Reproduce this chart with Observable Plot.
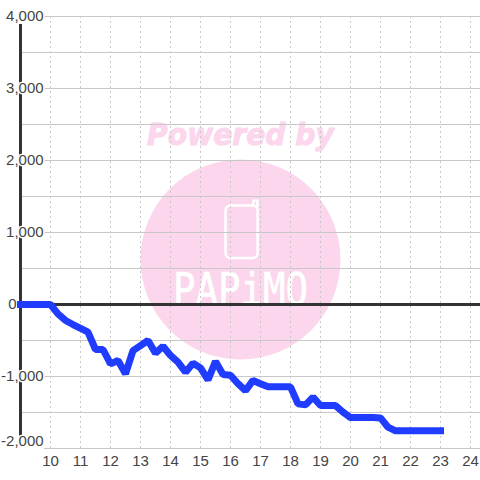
<!DOCTYPE html>
<html><head><meta charset="utf-8">
<script src="https://cdn.jsdelivr.net/npm/d3@7"></script>
<script src="https://cdn.jsdelivr.net/npm/@observablehq/plot@0.6"></script>
<style>html,body{margin:0;padding:0;background:#fff}svg{display:block}</style>
</head><body><div id="chart"></div>
<script>
const hours = [9,10,10.25,10.5,10.75,11,11.25,11.5,11.75,12,12.25,12.5,12.75,13,13.25,13.5,13.75,14,14.25,14.5,14.75,15,15.25,15.5,15.75,16,16.25,16.5,16.75,17,17.25,17.5,17.75,18,18.25,18.5,18.75,19,19.25,19.5,19.75,20,20.25,20.5,20.75,21,21.25,21.5,21.75,22,22.25,22.5,22.75,23];
const values = [0,0,-130,-222,-278,-330,-384,-625,-625,-824,-778,-963,-640,-570,-500,-676,-580,-708,-800,-940,-815,-880,-1046,-790,-972,-982,-1100,-1195,-1055,-1100,-1143,-1143,-1143,-1143,-1380,-1394,-1287,-1403,-1403,-1403,-1495,-1570,-1570,-1570,-1570,-1575,-1704,-1755,-1755,-1755,-1755,-1755,-1755,-1755];
const xTicks = [10,11,12,13,14,15,16,17,18,19,20,21,22,23,24];
const yMajor = [4000,3000,2000,1000,-1000,-2000];
const yMinor = [3500,2500,1500,500,-500,-1500];
const yLabels = [4000,3000,2000,1000,-1000];
const yZero = [0];
const yLow = [-2000];
const xStart = 9, xEnd = 24.333, labelEdge = 9.8, labelX = 9.77, zeroX = 8.87;
const series = hours.map((h,i)=>({h,v:values[i]}));
const fmt = d => d3.format(",")(d).replace("−","-");
const font = "Liberation Sans, Arial, sans-serif";
const pink = "#fbd6ed";
const antenna = [{h:16.74,v:1368},{h:16.77,v:1445},{h:16.9,v:1445},{h:16.9,v:1368}];
function narrow(sx){
  return (i,s,v,d,c,next)=>{
    const g = next(i,s,v,d,c);
    d3.select(g).selectAll("text").each(function(){
      const t=d3.select(this), tr=t.attr("transform")||"";
      t.attr("transform",tr+` scale(${sx},1)`);
    });
    return g;
  };
}
const labelStyle = {textAnchor:"end",fontSize:15,fill:"#444",stroke:"#fff",strokeWidth:3,paintOrder:"stroke"};
const plot = Plot.plot({
  width:480,height:480,marginLeft:20,marginRight:0,marginTop:16,marginBottom:32,
  style:{background:"#fff",fontFamily:font},
  x:{domain:[xStart,xEnd],axis:null},
  y:{domain:[-2000,4000],axis:null},
  marks:[
    Plot.dot([{h:16.333,v:625}],{x:"h",y:"v",r:100,fill:pink,stroke:"none"}),
    Plot.text(["Powered by"],{x:()=>16.333,y:()=>2350,text:d=>d,fontSize:30,fontWeight:"bold",fontStyle:"italic",fill:pink,stroke:pink,strokeWidth:1,fontFamily:"DejaVu Sans, sans-serif",textAnchor:"middle",render:narrow(0.94)}),
    Plot.rect([{x1:15.85,x2:16.92,y1:639,y2:1368}],{x1:"x1",x2:"x2",y1:"y1",y2:"y2",fill:"none",stroke:"#fff",strokeWidth:2.5,rx:5}),
    Plot.line(antenna,{x:"h",y:"v",stroke:"#fff",strokeWidth:2.5,strokeLinejoin:"round",curve:"linear"}),
    Plot.text(["PAPiMO"],{x:()=>16.333,y:()=>190,text:d=>d,fontSize:44,fill:"#fff",stroke:"#fff",strokeWidth:0.6,fontFamily:"DejaVu Sans Mono, monospace",textAnchor:"middle",render:narrow(0.85)}),
    Plot.ruleX(xTicks,{y1:4000,y2:-2000,stroke:"#c8c8c8",strokeWidth:1,strokeDasharray:"2,3"}),
    Plot.ruleY(yMinor,{x1:xStart,x2:xEnd,stroke:"#c8c8c8",strokeWidth:1}),
    Plot.ruleY(yMajor,{x1:labelEdge,x2:xEnd,stroke:"#c8c8c8",strokeWidth:1}),
    Plot.ruleX([xStart],{y1:3889,y2:-1833,stroke:"#333",strokeWidth:3}),
    Plot.ruleY([0],{x1:xStart,x2:xEnd,stroke:"#333",strokeWidth:3}),
    Plot.text(yLabels,{x:()=>labelX,y:d=>d,text:fmt,...labelStyle}),
    Plot.text(yZero,{x:()=>zeroX,y:d=>d,text:fmt,...labelStyle}),
    Plot.text(yLow,{x:()=>labelX,y:d=>d,text:fmt,dy:-7,...labelStyle}),
    Plot.line(series,{x:"h",y:"v",stroke:"#1f3cff",strokeWidth:7,strokeLinecap:"square",strokeLinejoin:"miter",curve:"linear"}),
    Plot.text(xTicks,{x:d=>d,y:()=>-2000,text:d=>String(d),dy:13,fontSize:15,fill:"#444",textAnchor:"middle"})
  ]
});
document.getElementById("chart").append(plot);
</script></body></html>
